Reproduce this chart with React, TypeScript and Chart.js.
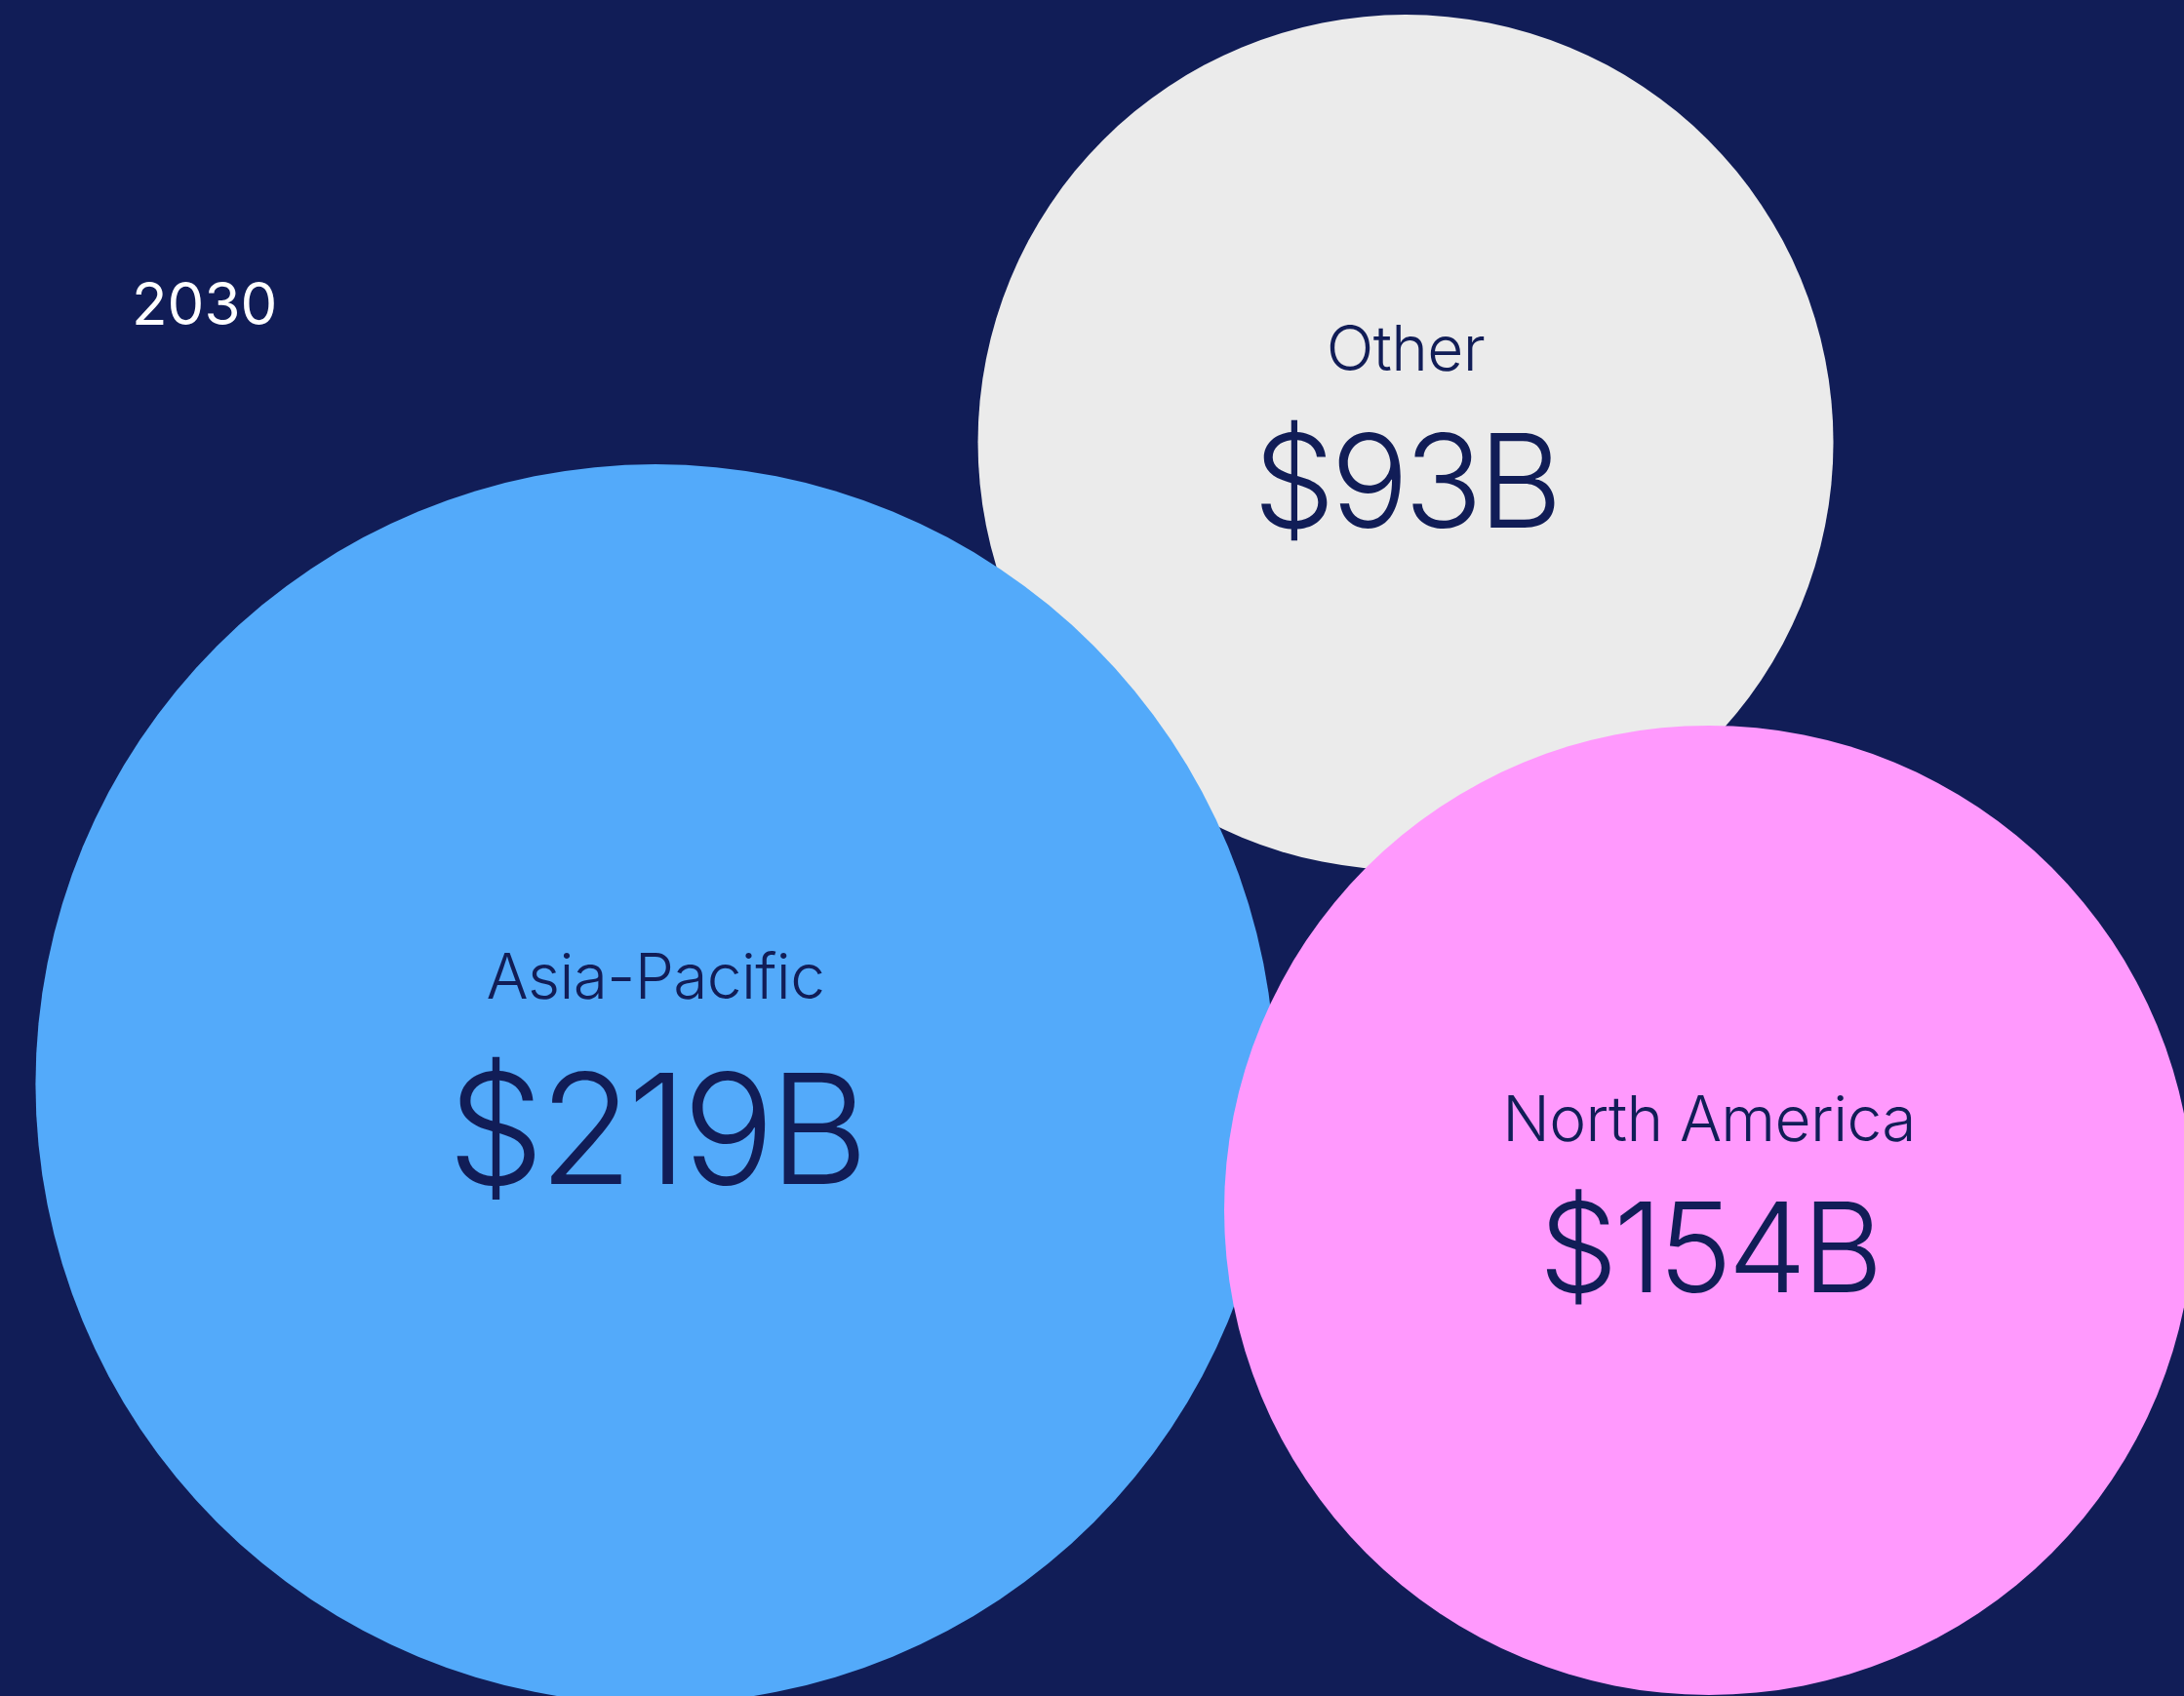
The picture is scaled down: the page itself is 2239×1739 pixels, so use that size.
import React, { useEffect, useRef } from "react";
import { Chart, registerables } from "chart.js";

Chart.register(...registerables);

// ---- data ----
const categories = ["Other", "Asia-Pacific", "North America"];
const values = [93, 219, 154];
const valueLabels = ["$93B", "$219B", "$154B"];
const xPositions = [64.36, 30.01, 78.25]; // horizontal position, % of width
const yPositions = [26.08, 63.92, 71.36]; // vertical position, % from top
const radii = [438.5, 635.5, 497]; // bubble radius
const yearLabel = "2030";

// ---- styles ----
const colors = ["#EBEBEB", "#53AAFA", "#FF99FD"];
const valueFontSizes = [133, 157, 128];
const BG = "#111D57";
const INK = "#111D57";
const FONT = "Inter, 'Noto Sans', sans-serif";

const W = 2239;
const H = 1739;

export default function App() {
  const ref = useRef<HTMLCanvasElement | null>(null);

  useEffect(() => {
    document.body.style.margin = "0";
    document.body.style.background = BG;
    const canvas = ref.current;
    if (!canvas) return;

    const labelPlugin = {
      id: "bubbleLabels",
      afterDatasetsDraw(chart: any) {
        const ctx = chart.ctx as any;
        const meta = chart.getDatasetMeta(0);
        ctx.save();
        ctx.fillStyle = INK;
        ctx.textAlign = "center";
        ctx.textBaseline = "alphabetic";
        meta.data.forEach((el: any, i: number) => {
          const vf = valueFontSizes[i];
          ctx.font = `300 64px ${FONT}`;
          ctx.letterSpacing = "-0.6px";
          ctx.fillText(categories[i], el.x, el.y - 0.555 * vf);
          ctx.font = `300 ${vf}px ${FONT}`;
          ctx.letterSpacing = `${-0.035 * vf}px`;
          ctx.fillText(valueLabels[i], el.x, el.y + 0.655 * vf);
        });
        ctx.letterSpacing = "0px";
        ctx.fillStyle = "#FFFFFF";
        ctx.textAlign = "left";
        ctx.font = `400 60px ${FONT}`;
        ctx.fillText(yearLabel, 135, 333);
        ctx.restore();
      },
    };

    const chart = new Chart(canvas, {
      type: "bubble",
      data: {
        labels: categories,
        datasets: [
          {
            label: yearLabel,
            data: categories.map((_, i) => ({
              x: xPositions[i],
              y: yPositions[i],
              r: radii[i],
              v: values[i],
            })) as any,
            backgroundColor: colors,
            hoverBackgroundColor: colors,
            borderWidth: 0,
            hoverBorderWidth: 0,
            hoverRadius: 0,
            clip: false as any,
          },
        ],
      },
      options: {
        animation: false,
        responsive: true,
        maintainAspectRatio: false,
        events: [],
        layout: { padding: 0, autoPadding: false } as any,
        plugins: {
          legend: { display: false },
          tooltip: { enabled: false },
          title: { display: false },
        },
        scales: {
          x: { type: "linear", min: 0, max: 100, display: false },
          y: { type: "linear", min: 0, max: 100, reverse: true, display: false },
        },
      },
      plugins: [labelPlugin],
    });

    return () => chart.destroy();
  }, []);

  return (
    <div
      style={{
        position: "fixed",
        left: 0,
        top: 0,
        width: W,
        height: H,
        background: BG,
        overflow: "hidden",
      }}
    >
      <canvas ref={ref} />
    </div>
  );
}
